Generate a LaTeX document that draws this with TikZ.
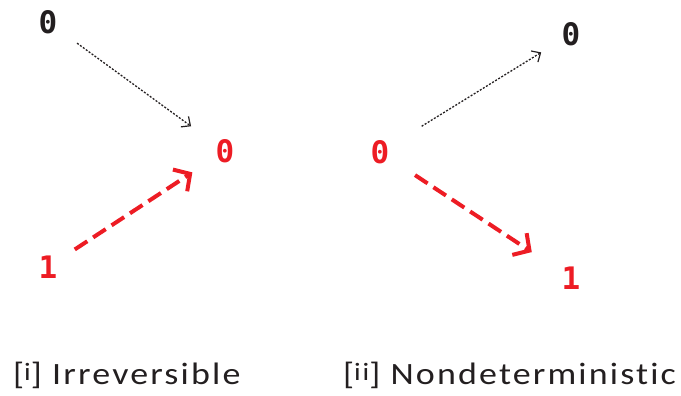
\documentclass[tikz,border=0pt]{standalone}
\usepackage{fontspec}
\setmainfont{Carlito}
\newfontfamily\digitfont{DejaVu Sans Mono}
\newfontfamily\capfont[LetterSpace=6,Ligatures=NoCommon]{Carlito}
\usetikzlibrary{arrows.meta}
\definecolor{myred}{RGB}{237,28,36}
\definecolor{myblack}{RGB}{35,31,32}
\tikzset{
  digit/.style={font=\digitfont\bfseries\fontsize{31}{31}\selectfont, inner sep=0pt},
  redd/.style={digit, text=myred},
  blkd/.style={digit, text=myblack},
  dotarrow/.style={draw=myblack, line width=1.3pt, dash pattern=on 2pt off 1.6pt,
     -{Straight Barb[length=7pt,width=13pt,line width=1.2pt]}},
  dasharrow/.style={draw=myred, line width=4pt, dash pattern=on 15pt off 7pt,
     -{Straight Barb[length=12pt,width=26pt,line width=4pt]}},
  caption/.style={font=\capfont\fontsize{31}{31}\selectfont, anchor=base west, inner sep=0pt, text=myblack}
}
\newcommand{\supi}[1]{\raisebox{4pt}{\fontsize{25}{25}\selectfont #1}}
\newcommand{\capbox}[1]{\scalebox{1.16}[1]{#1}}
\begin{document}
\begin{tikzpicture}[x=1pt,y=-1pt]
\useasboundingbox (0,0) rectangle (681,396);
% left
\node[blkd] (a) at (48,22) {0};
\node[redd] (b) at (225,151) {0};
\node[redd] (c) at (48,267) {1};
\draw[dotarrow, shorten <=36pt, shorten >=42pt] (a.center) -- (b.center);
\draw[dasharrow, shorten <=32pt, shorten >=39pt] (c.center) -- (b.center);
% right
\node[redd] (d) at (380,152) {0};
\node[blkd] (e) at (571,34) {0};
\node[redd] (f) at (571,278) {1};
\draw[dotarrow, shorten <=49pt, shorten >=35pt] (d.center) -- (e.center);
\draw[dasharrow, shorten <=42pt, shorten >=47pt] (d.center) -- (f.center);
% captions
\node[caption] (l1) at (13,384) {\capbox{[\supi{i}] Irreversible}};
\node[caption] (l2) at (343,384) {\capbox{[\supi{ii}] Nondeterministic}};
\end{tikzpicture}
\end{document}
